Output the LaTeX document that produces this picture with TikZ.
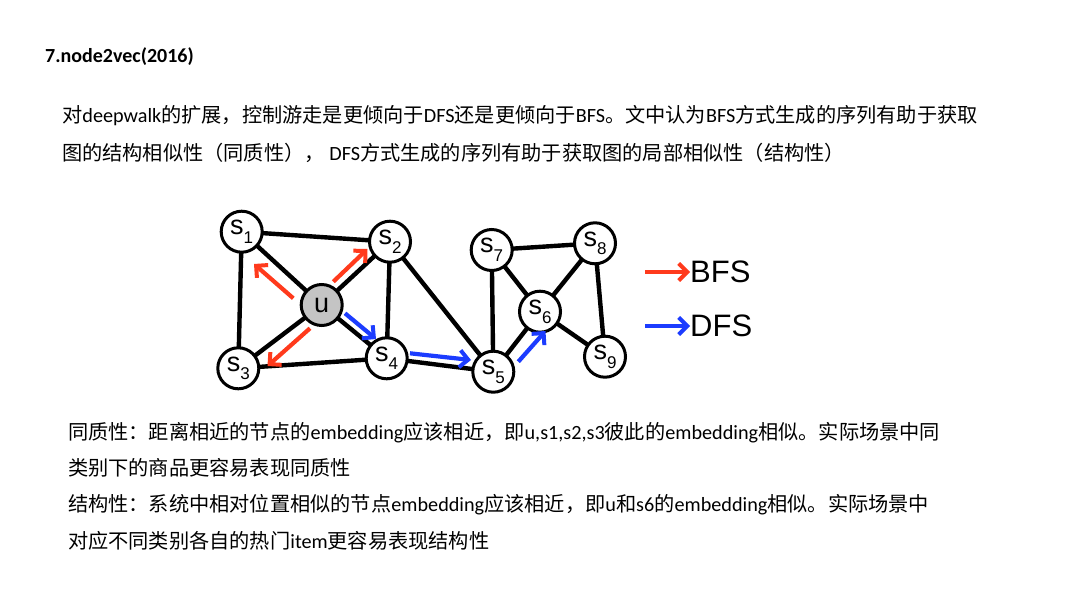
\documentclass[tikz,border=0pt]{standalone}
\usepackage{fontspec}
\setmainfont{Carlito}
\newfontfamily\cjk{Noto Sans CJK SC}
\newfontfamily\arialf{Liberation Sans}
\usetikzlibrary{arrows.meta}
\newcommand\zh[1]{{\cjk #1}}
\newcommand\sn[1]{s\raisebox{-0.32em}{\fontsize{17}{17}\selectfont #1}}
\definecolor{bfsred}{HTML}{FF3A1C}
\definecolor{dfsblue}{HTML}{1C3CFF}
\definecolor{ugray}{HTML}{C4C4C4}
\tikzset{
  vert/.style={circle,draw=black,line width=3pt,fill=white,minimum size=41pt,inner sep=0pt,
    font=\arialf\fontsize{27}{27}\selectfont},
  edge/.style={line width=4.4pt,black},
  walkarrow/.style={line width=4.2pt,-{Straight Barb[length=8.5pt,width=17pt,line width=4pt]}},
  txt/.style={anchor=west,inner sep=0pt,font=\fontsize{20.2}{24}\selectfont},
  legend/.style={anchor=west,inner sep=0pt,font=\arialf\fontsize{31}{31}\selectfont}
}
\begin{document}
\begin{tikzpicture}[x=1pt,y=-1pt]
\useasboundingbox[fill=white] (0,0) rectangle (1080,608);
% texts
\node[txt,font=\bfseries\fontsize{20}{22}\selectfont] (title) at (45,57) {7.node2vec(2016)};
\node[txt] (p1) at (62,116) {\zh{对}deepwalk\zh{的扩展，控制游走是更倾向于}DFS\zh{还是更倾向于}BFS\zh{。文中认为}BFS\zh{方式生成的序列有助于获取}};
\node[txt] (p2) at (62,153) {\zh{图的结构相似性（同质性），} DFS\zh{方式生成的序列有助于获取图的局部相似性（结构性）}};
\node[txt] (p3) at (68,433) {\zh{同质性：距离相近的节点的}embedding\zh{应该相近，即}u,s1,s2,s3\zh{彼此的}embedding\zh{相似。实际场景中同}};
\node[txt] (p4) at (68,468) {\zh{类别下的商品更容易表现同质性}};
\node[txt] (p5) at (68,505) {\zh{结构性：系统中相对位置相似的节点}embedding\zh{应该相近，即}u\zh{和}s6\zh{的}embedding\zh{相似。实际场景中}};
\node[txt] (p6) at (68,541) {\zh{对应不同类别各自的热门}item\zh{更容易表现结构性}};
% graph node positions
\coordinate (s1) at (241.7,231.7);
\coordinate (s2) at (390,241.7);
\coordinate (u) at (321.7,305);
\coordinate (s3) at (238.3,368.3);
\coordinate (s4) at (386.7,358.3);
\coordinate (s5) at (493.3,371.7);
\coordinate (s7) at (491.7,250);
\coordinate (s8) at (595,243.3);
\coordinate (s6) at (540,311.7);
\coordinate (s9) at (605,356.7);
% edges
\foreach \a/\b in {s1/s2,s1/u,s1/s3,s2/u,s2/s4,s2/s5,u/s3,u/s4,s3/s4,s4/s5,s5/s7,s5/s6,s7/s8,s7/s6,s8/s6,s8/s9,s6/s9}
  \draw[edge] (\a) -- (\b);
% nodes above edges
\node[vert] (n1) at (s1) {\sn{1}};
\node[vert] (n2) at (s2) {\sn{2}};
\node[vert,fill=ugray] (nu) at (u) {u};
\node[vert] (n3) at (s3) {\sn{3}};
\node[vert] (n4) at (s4) {\sn{4}};
\node[vert] (n5) at (s5) {\sn{5}};
\node[vert] (n7) at (s7) {\sn{7}};
\node[vert] (n8) at (s8) {\sn{8}};
\node[vert] (n6) at (s6) {\sn{6}};
\node[vert] (n9) at (s9) {\sn{9}};
% walk arrows
\coordinate (b1s) at (293.3,298.3); \coordinate (b1e) at (254,264);
\coordinate (b2s) at (333.3,281.7); \coordinate (b2e) at (367.5,249);
\coordinate (b3s) at (310,328.3);   \coordinate (b3e) at (267.5,366);
\coordinate (d1s) at (345,313.3);   \coordinate (d1e) at (376,339);
\coordinate (d2s) at (410,353.3);   \coordinate (d2e) at (471,360);
\coordinate (d3s) at (518.3,361.7); \coordinate (d3e) at (545.5,331);
\draw[walkarrow,bfsred] (b1s) -- (b1e);
\draw[walkarrow,bfsred] (b2s) -- (b2e);
\draw[walkarrow,bfsred] (b3s) -- (b3e);
\draw[walkarrow,dfsblue] (d1s) -- (d1e);
\draw[walkarrow,dfsblue] (d2s) -- (d2e);
\draw[walkarrow,dfsblue] (d3s) -- (d3e);
% legend
\node[legend] (lb) at (690,272) {BFS};
\node[legend] (ld) at (690,326) {DFS};
\coordinate (lbs) at (645,272);
\coordinate (lds) at (645,326);
\draw[walkarrow,bfsred] (lbs) -- (lb.west);
\draw[walkarrow,dfsblue] (lds) -- (ld.west);
\end{tikzpicture}
\end{document}
